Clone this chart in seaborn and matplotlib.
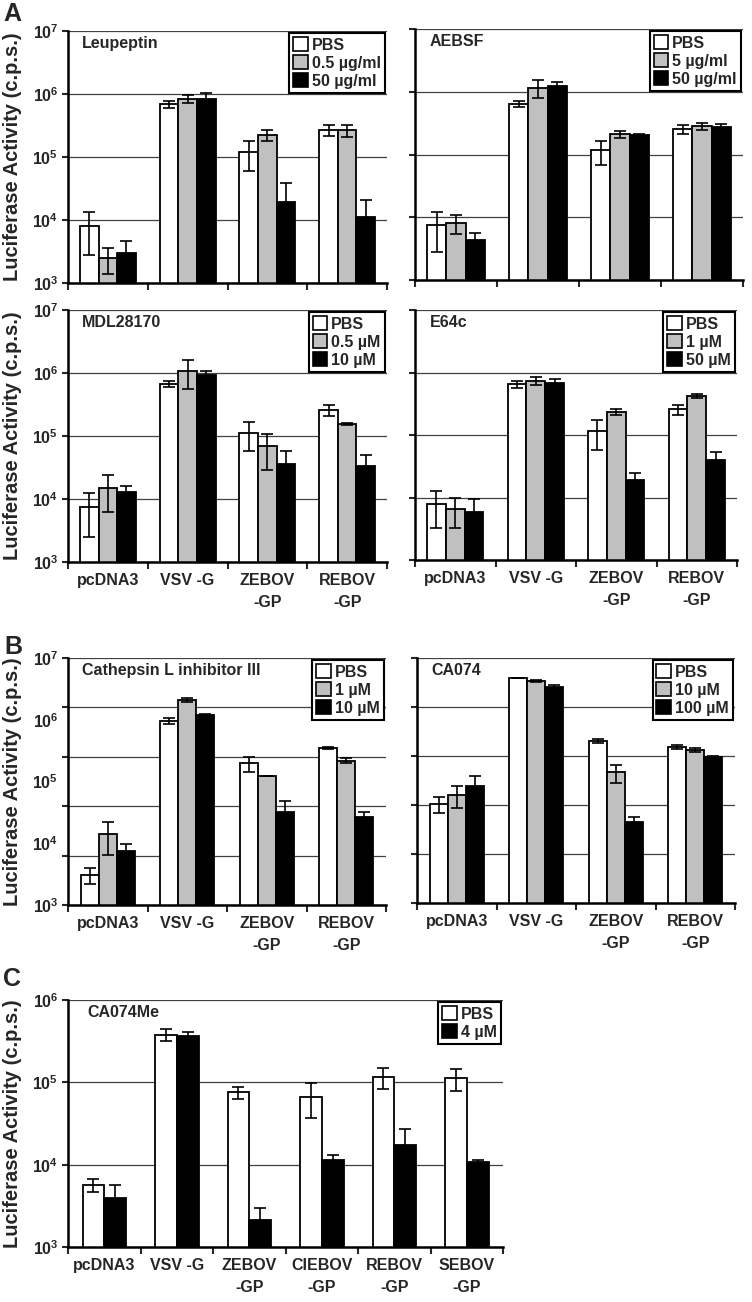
import numpy as np
import pandas as pd
import matplotlib
matplotlib.use("Agg")
import matplotlib.pyplot as plt
from matplotlib.patches import Patch
from matplotlib.ticker import FixedLocator, FixedFormatter, FuncFormatter, NullFormatter, NullLocator
import seaborn as sns

constructs4 = ["pcDNA3", "VSV -G", "ZEBOV\n-GP", "REBOV\n-GP"]
constructs6 = ["pcDNA3", "VSV -G", "ZEBOV\n-GP", "CIEBOV\n-GP", "REBOV\n-GP", "SEBOV\n-GP"]

# A - Leupeptin
leu_levels = ["PBS", "0.5 µg/ml", "50 µg/ml"]
leu_mean = [[8.0e3, 6.9e5, 1.21e5, 2.68e5],
            [2.5e3, 8.3e5, 2.23e5, 2.65e5],
            [3.0e3, 8.2e5, 1.9e4, 1.1e4]]
leu_err = [[5.2e3, 8e4, 6.0e4, 5.5e4],
           [1.1e3, 1.2e5, 4.5e4, 6.0e4],
           [1.7e3, 2.0e5, 1.9e4, 1.0e4]]

# A - AEBSF
aeb_levels = ["PBS", "5 µg/ml", "50 µg/ml"]
aeb_mean = [[7.4e3, 6.4e5, 1.17e5, 2.55e5],
            [8.1e3, 1.16e6, 2.1e5, 2.85e5],
            [4.3e3, 1.24e6, 2.05e5, 2.7e5]]
aeb_err = [[4.6e3, 6e4, 4.8e4, 4.5e4],
           [2.6e3, 3.6e5, 2.8e4, 3.5e4],
           [1.4e3, 2.0e5, 5e3, 3.2e4]]

# A - MDL28170
mdl_levels = ["PBS", "0.5 µM", "10 µM"]
mdl_mean = [[7.5e3, 6.7e5, 1.12e5, 2.6e5],
            [1.52e4, 1.09e6, 6.9e4, 1.57e5],
            [1.28e4, 9.4e5, 3.6e4, 3.4e4]]
mdl_err = [[5.0e3, 7e4, 5.5e4, 5.0e4],
           [9e3, 5.3e5, 4.0e4, 5e3],
           [3e3, 1.5e5, 2.1e4, 1.6e4]]

# A - E64c
e64_levels = ["PBS", "1 µM", "50 µM"]
e64_mean = [[8.0e3, 6.5e5, 1.17e5, 2.56e5],
            [6.6e3, 7.4e5, 2.35e5, 4.2e5],
            [5.9e3, 6.7e5, 1.94e4, 3.95e4]]
e64_err = [[4.8e3, 8e4, 6e4, 4.4e4],
           [3.3e3, 1.0e5, 2.5e4, 3.5e4],
           [3.7e3, 1.2e5, 5e3, 1.4e4]]

# B - Cathepsin L inhibitor III
cat_levels = ["PBS", "1 µM", "10 µM"]
cat_mean = [[3.1e3, 9.6e5, 1.98e5, 3.47e5],
            [1.42e4, 2.08e6, 1.25e5, 2.16e5],
            [7.6e3, 1.2e6, 3.26e4, 2.7e4]]
cat_err = [[9e2, 1e5, 5.5e4, 1.2e4],
           [7.7e3, 1.3e5, 0, 2e4],
           [2e3, 3e4, 1.6e4, 5e3]]

# B - CA074
ca_levels = ["PBS", "10 µM", "100 µM"]
ca_mean = [[4.2e4, 4.7e6, 4.4e5, 3.5e5],
           [5.9e4, 4.2e6, 1.37e5, 3.2e5],
           [8.1e4, 3.4e6, 2.1e4, 2.45e5]]
ca_err = [[1.2e4, 5e4, 3e4, 2.5e4],
          [2.3e4, 1e5, 4.5e4, 2.5e4],
          [3.6e4, 2e5, 4e3, 5e3]]

# C - CA074Me
me_levels = ["PBS", "4 µM"]
me_mean = [[5.7e3, 3.8e5, 7.6e4, 6.7e4, 1.15e5, 1.12e5],
           [3.9e3, 3.7e5, 2.1e3, 1.14e4, 1.73e4, 1.07e4]]
me_err = [[1.0e3, 6.5e4, 1.3e4, 3.0e4, 3.3e4, 3.3e4],
          [1.7e3, 3.5e4, 9e2, 1.7e3, 9.5e3, 7e2]]

sns.set_style("ticks")
plt.rcParams["font.family"] = ["Liberation Sans", "DejaVu Sans"]
plt.rcParams["font.weight"] = "bold"
plt.rcParams["mathtext.fontset"] = "custom"
plt.rcParams["mathtext.rm"] = "Liberation Sans:bold"
plt.rcParams["mathtext.bf"] = "Liberation Sans:bold"
plt.rcParams["mathtext.default"] = "bf"

W, H = 752, 1302
fig = plt.figure(figsize=(W / 100, H / 100), dpi=100)


def add_ax(x0, y0, x1, y1):
    return fig.add_axes([x0 / W, 1 - y1 / H, (x1 - x0) / W, (y1 - y0) / H])


FS = 11.5
pow_fmt = FuncFormatter(lambda v, p: r"$10^{%d}$" % round(np.log10(v)))


def panel(ax, constructs, levels, means, errs, colors, title, width,
          ytop=1e7, odd_grid=False, ylabels=True, xlabels=True):
    rows = []
    for lev, m in zip(levels, means):
        for c, v in zip(constructs, m):
            rows.append({"construct": c, "treatment": lev, "value": v})
    df = pd.DataFrame(rows)
    sns.barplot(data=df, x="construct", y="value", hue="treatment",
                order=constructs, hue_order=levels, palette=colors,
                edgecolor="black", linewidth=1.3, errorbar=None,
                width=width, legend=False, ax=ax)
    ax.set_yscale("log")
    for cont, m, e in zip(ax.containers, means, errs):
        xs = [b.get_x() + b.get_width() / 2 for b in cont]
        ax.errorbar(xs, m, yerr=e, fmt="none", ecolor="black",
                    elinewidth=1.2, capsize=4.5, capthick=1.2, zorder=5)
    ax.set_ylim(1e3, ytop)
    n = len(constructs)
    ax.set_xlim(-0.5, n - 0.5)
    ax.set_xlabel("")
    ax.set_ylabel("")

    lo, hi = 3, int(round(np.log10(ytop)))
    decades = [10.0 ** k for k in range(lo, hi + 1)]
    if odd_grid:
        # gridlines split the axis in five, labels stay at the decades
        ax.yaxis.remove_overlapping_locs = False
        grid_pos = list(10 ** np.linspace(lo, hi, 6))
        ax.yaxis.set_major_locator(FixedLocator(grid_pos))
        ax.yaxis.set_major_formatter(NullFormatter())
        ax.yaxis.set_minor_locator(FixedLocator(decades))
        ax.yaxis.set_minor_formatter(pow_fmt if ylabels else NullFormatter())
        ax.tick_params(axis="y", which="minor", length=0, labelsize=FS, pad=7)
    else:
        ax.yaxis.set_major_locator(FixedLocator(decades))
        ax.yaxis.set_major_formatter(pow_fmt if ylabels else NullFormatter())
        ax.yaxis.set_minor_locator(NullLocator())
    ax.tick_params(axis="y", which="major", length=4, width=1.5, labelsize=FS, pad=3)
    ax.yaxis.grid(True, which="major", color="0.25", lw=0.9)
    ax.set_axisbelow(True)

    ax.set_xticks(np.arange(n + 1) - 0.5)
    ax.set_xticklabels([""] * (n + 1))
    ax.set_xticks(np.arange(n), minor=True)
    ax.set_xticklabels(constructs if xlabels else [""] * n, minor=True,
                       fontsize=FS, fontweight="bold", linespacing=1.6)
    ax.tick_params(axis="x", which="major", length=5, width=1.5)
    ax.tick_params(axis="x", which="minor", length=0, pad=8)

    for s in ["top", "right"]:
        ax.spines[s].set_visible(False)
    for s in ["left", "bottom"]:
        ax.spines[s].set_color("black")
        ax.spines[s].set_linewidth(1.8)

    ax.text(0.045, 0.95, title, transform=ax.transAxes, fontsize=FS,
            fontweight="bold", va="center", ha="left")
    handles = [Patch(facecolor=c, edgecolor="black", lw=1.2) for c in colors]
    leg = ax.legend(handles, levels, loc="upper right", fontsize=FS,
                    frameon=True, fancybox=False, framealpha=1,
                    borderaxespad=0.15, borderpad=0.25, labelspacing=0.18,
                    handlelength=0.9, handleheight=0.9, handletextpad=0.25)
    leg.get_frame().set_edgecolor("black")
    leg.get_frame().set_linewidth(1.5)
    leg.set_zorder(10)


three = ["white", "#c0c0c0", "black"]
ylab = "Luciferase Activity (c.p.s.)"

ax1 = add_ax(68, 31, 387, 283)
panel(ax1, constructs4, leu_levels, leu_mean, leu_err, three, "Leupeptin", 0.7, xlabels=False)
ax2 = add_ax(415, 29, 743, 280)
panel(ax2, constructs4, aeb_levels, aeb_mean, aeb_err, three, "AEBSF", 0.7, ylabels=False, xlabels=False)
ax3 = add_ax(68, 310, 387, 562)
panel(ax3, constructs4, mdl_levels, mdl_mean, mdl_err, three, "MDL28170", 0.7)
ax4 = add_ax(415, 310, 737, 560)
panel(ax4, constructs4, e64_levels, e64_mean, e64_err, three, "E64c", 0.7, ylabels=False)
ax5 = add_ax(68, 658, 386, 905)
panel(ax5, constructs4, cat_levels, cat_mean, cat_err, three, "Cathepsin L inhibitor III", 0.68, odd_grid=True)
ax6 = add_ax(417, 658, 735, 903)
panel(ax6, constructs4, ca_levels, ca_mean, ca_err, three, "CA074", 0.68, odd_grid=True, ylabels=False)
ax7 = add_ax(68, 1000, 503, 1247)
panel(ax7, constructs6, me_levels, me_mean, me_err, ["white", "black"], "CA074Me", 0.6, ytop=1e6)

for ax in [ax1, ax3, ax5]:
    ax.set_ylabel(ylab, fontsize=14.5, fontweight="bold")
    ax.yaxis.set_label_coords(-0.145, 0.5)
ax7.set_ylabel(ylab, fontsize=14.5, fontweight="bold")
ax7.yaxis.set_label_coords(-0.106, 0.5)

for letter, (px, py) in {"A": (12, 14), "B": (13, 647), "C": (12, 979)}.items():
    fig.text(px / W, 1 - py / H, letter, fontsize=18, fontweight="bold",
             ha="center", va="center")

fig.savefig("out.png", dpi=100)
